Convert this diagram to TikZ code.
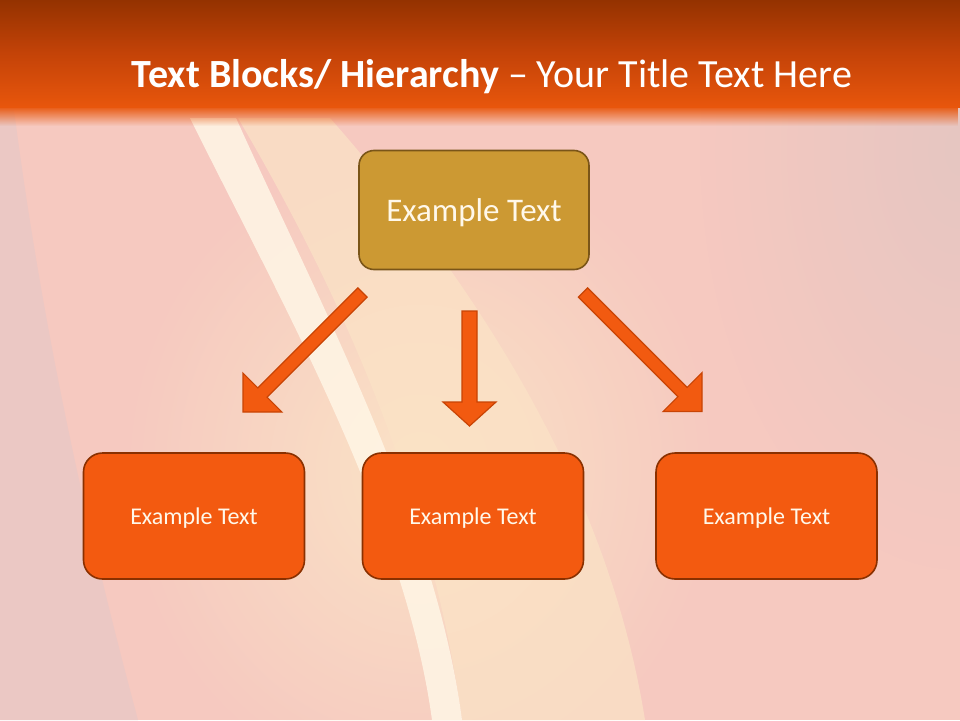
\documentclass[tikz,border=0pt]{standalone}
\usepackage{fontspec}
\setmainfont{Carlito}
\usetikzlibrary{fadings}
\definecolor{bgpink}{HTML}{F6C9C0}
\definecolor{leftgray}{HTML}{EBC8C4}
\definecolor{rightgray}{HTML}{E6C6C2}
\definecolor{glow}{HTML}{FBE3C6}
\definecolor{stripe}{HTML}{FFF6E6}
\definecolor{hdrTop}{HTML}{943200}
\definecolor{hdrMid}{HTML}{C44308}
\definecolor{hdrBot}{HTML}{E8560C}
\definecolor{goldfill}{HTML}{CC9933}
\definecolor{golddraw}{HTML}{7A5518}
\definecolor{boxfill}{HTML}{F35A10}
\definecolor{boxdraw}{HTML}{8A3000}
\definecolor{arrfill}{HTML}{F25A10}
\definecolor{arrdraw}{HTML}{C84405}
\definecolor{boxtext}{HTML}{FFF8EA}
\tikzfading[name=fadedown, top color=transparent!0, bottom color=transparent!100]
\tikzfading[name=softedge, inner color=transparent!0, outer color=transparent!100]
\newcommand\blkarrow[6]{%
  \begin{scope}[shift={(#1)},rotate=#2]
    \draw[blockarr] (0,-#4) -- ({#3-#6},-#4) -- ({#3-#6},-#5) -- (#3,0)
      -- ({#3-#6},#5) -- ({#3-#6},#4) -- (0,#4) -- cycle;
  \end{scope}}
\tikzset{
  topbox/.style={draw=golddraw, line width=1.6pt, fill=goldfill, rounded corners=15pt,
    minimum width=230pt, minimum height=119pt, inner sep=0pt, text depth=0pt,
    text=boxtext, font=\fontsize{33}{37}\selectfont},
  subbox/.style={draw=boxdraw, line width=1.6pt, fill=boxfill, rounded corners=19pt,
    minimum width=221pt, minimum height=126pt, inner sep=0pt, text depth=0pt,
    text=boxtext, font=\fontsize{24}{28}\selectfont},
  blockarr/.style={draw=arrdraw, line width=1.2pt, fill=arrfill, line join=miter},
  titletext/.style={text=white, font=\fontsize{40}{44}\selectfont, inner sep=0pt}
}
\begin{document}
\begin{tikzpicture}[x=1pt,y=-1pt]
\useasboundingbox (0,0) rectangle (960,720);
% background
\fill[bgpink] (0,0) rectangle (960,720);
\fill[rightgray, path fading=softedge] (960,150) ellipse (260 and 420);
\fill[leftgray] (0,110) -- (14,110) .. controls (45,350) and (95,560) .. (138,720) -- (0,720) -- cycle;
\fill[glow, path fading=softedge] (420,470) ellipse (300 and 330);
\fill[glow, opacity=0.7] (238,118) .. controls (345,300) and (432,500) .. (462,720) -- (645,720)
   .. controls (610,500) and (490,300) .. (330,118) -- cycle;
\fill[stripe, opacity=0.85] (190,118) .. controls (280,300) and (405,520) .. (432,720) -- (462,720)
   .. controls (436,520) and (318,300) .. (236,118) -- cycle;
% header
\shade[top color=hdrTop, bottom color=hdrBot, middle color=hdrMid] (0,0) rectangle (960,107);
\fill[hdrBot, path fading=fadedown] (0,106) rectangle (960,126);
\node[titletext, anchor=base] (title) at (492,87) {\textbf{Text Blocks/ Hierarchy} – Your Title Text Here};
% boxes
\node[topbox] (top) at (474,210) {Example Text};
\node[subbox] (left) at (194,516) {Example Text};
\node[subbox] (mid) at (473,516) {Example Text};
\node[subbox] (right) at (766.5,516) {Example Text};
% arrows
\coordinate (aLs) at (362.5,292.5);
\coordinate (aMs) at (469.5,311);
\coordinate (aRs) at (583,292.5);
\blkarrow{aLs}{225}{169}{6.5}{27.5}{27.5}
\blkarrow{aMs}{270}{115}{7.5}{26.5}{24}
\blkarrow{aRs}{315}{168.3}{6.5}{27.5}{27.5}
\end{tikzpicture}
\end{document}
